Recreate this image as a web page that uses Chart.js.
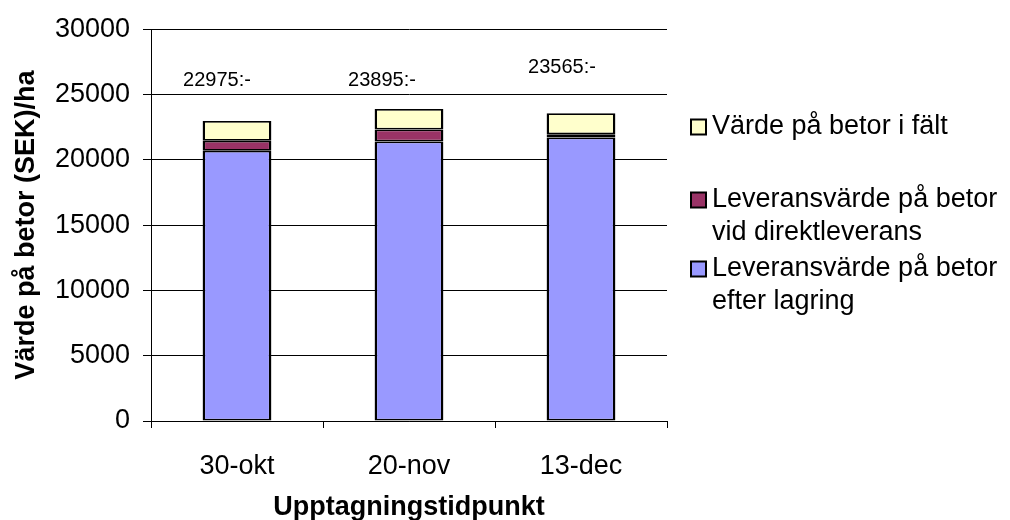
<!DOCTYPE html>
<html>
<head>
<meta charset="utf-8">
<script src="https://cdn.jsdelivr.net/npm/chart.js@4/dist/chart.umd.min.js"></script>
<style>
  html, body { margin: 0; padding: 0; background: #ffffff; }
  #wrap { width: 1010px; height: 520px; position: relative; }
</style>
</head>
<body>
<div id="wrap"><canvas id="c" width="1010" height="520"></canvas></div>
<script>
// Harvest dates
const categories = ['30-okt', '20-nov', '13-dec'];

// Value components, SEK per hectare
const efterLagring = [20700, 21400, 21700];   // delivery value after storage
const direktleverans = [750, 925, 250];       // extra value with direct delivery
const iFalt = [1525, 1570, 1615];             // value of beets left in the field

// Legend texts (one entry per line)
const legendFalt = ['Värde på betor i fält'];
const legendDirekt = ['Leveransvärde på betor', 'vid direktleverans'];
const legendLagring = ['Leveransvärde på betor', 'efter lagring'];

const yTicks = [0, 5000, 10000, 15000, 20000, 25000, 30000];
const yTitle = 'Värde på betor (SEK)/ha';
const xTitle = 'Upptagningstidpunkt';

const FONT = "'Liberation Sans', Arial, sans-serif";
const BAR_BORDER = { left: 2.5, right: 2.5, top: 1.75, bottom: 1.75 };

// Totals written above each column
const totalsPlugin = {
  id: 'totals',
  afterDatasetsDraw(chart, args, opts) {
    const ctx = chart.ctx;
    const y = chart.scales.y;
    const meta = chart.getDatasetMeta(0);
    ctx.save();
    ctx.font = '20px ' + FONT;
    ctx.fillStyle = '#000';
    ctx.textAlign = 'center';
    ctx.textBaseline = 'middle';
    categories.forEach((c, i) => {
      const total = efterLagring[i] + direktleverans[i] + iFalt[i];
      const px = meta.data[i].x + opts.dx[i];
      const py = y.getPixelForValue(opts.at[i]);
      ctx.fillText(total + ':-', px, py);
    });
    ctx.restore();
  }
};

// Legend with wrapped entries, drawn to the right of the plot
const sideLegend = {
  id: 'sideLegend',
  afterDraw(chart, args, opts) {
    const ctx = chart.ctx;
    const ds = chart.data.datasets;
    ctx.save();
    ctx.font = '27px ' + FONT;
    ctx.textBaseline = 'middle';
    ctx.textAlign = 'left';
    // top-down order: last dataset first
    const order = [2, 1, 0];
    order.forEach((d, k) => {
      const top = opts.rows[k];
      const s = 15;
      ctx.fillStyle = ds[d].backgroundColor;
      ctx.fillRect(opts.x, top - s / 2, s, s);
      ctx.strokeStyle = '#000';
      ctx.lineWidth = 2;
      ctx.strokeRect(opts.x, top - s / 2, s, s);
      ctx.fillStyle = '#000';
      ds[d].legendLines.forEach((line, j) => {
        ctx.fillText(line, opts.x + 21, top + j * opts.lineH);
      });
    });
    ctx.restore();
  }
};

new Chart(document.getElementById('c'), {
  type: 'bar',
  data: {
    labels: categories,
    datasets: [
      { label: legendLagring.join(' '), legendLines: legendLagring, data: efterLagring,
        backgroundColor: '#9999FF', borderColor: '#000', borderWidth: BAR_BORDER, borderSkipped: false },
      { label: legendDirekt.join(' '), legendLines: legendDirekt, data: direktleverans,
        backgroundColor: '#993366', borderColor: '#000', borderWidth: BAR_BORDER, borderSkipped: false },
      { label: legendFalt.join(' '), legendLines: legendFalt, data: iFalt,
        backgroundColor: '#FFFFCC', borderColor: '#000', borderWidth: BAR_BORDER, borderSkipped: false }
    ]
  },
  options: {
    responsive: false,
    animation: false,
    devicePixelRatio: 1,
    layout: { padding: { left: 0, right: 343, top: 29, bottom: 0 } },
    datasets: { bar: { categoryPercentage: 1.0, barPercentage: 0.4, inflateAmount: 0 } },
    plugins: {
      legend: { display: false },
      tooltip: { enabled: false },
      totals: { dx: [-20, -27, -19], at: [26100, 26100, 27100] },
      sideLegend: { x: 691, rows: [127, 200, 269], lineH: 33 }
    },
    scales: {
      x: {
        stacked: true,
        grid: { display: true, drawOnChartArea: false, drawTicks: true, tickLength: 7,
                color: '#000', lineWidth: 1, offset: true },
        border: { display: true, color: '#000', width: 1 },
        ticks: { color: '#000', font: { family: FONT, size: 27 }, padding: 22 },
        title: { display: true, text: xTitle, color: '#000',
                 font: { family: FONT, size: 27, weight: 'bold', lineHeight: 1.2 },
                 padding: { top: 0, bottom: -4 } },
        afterFit(scale) { scale.height = 99; }
      },
      y: {
        stacked: true,
        min: 0,
        max: 30000,
        afterBuildTicks(scale) { scale.ticks = yTicks.map(v => ({ value: v })); },
        grid: { display: true, drawOnChartArea: true, drawTicks: true, tickLength: 8,
                color: '#000', lineWidth: 1 },
        border: { display: true, color: '#000', width: 1 },
        ticks: { color: '#000', font: { family: FONT, size: 27 }, padding: 13,
                 callback: (v) => String(v) },
        title: { display: true, text: yTitle, color: '#000',
                 font: { family: FONT, size: 27, weight: 'bold', lineHeight: 1.2 },
                 padding: { top: 10, bottom: 0 } },
        afterFit(scale) { scale.width = 151; }
      }
    }
  },
  plugins: [totalsPlugin, sideLegend]
});
</script>
</body>
</html>
